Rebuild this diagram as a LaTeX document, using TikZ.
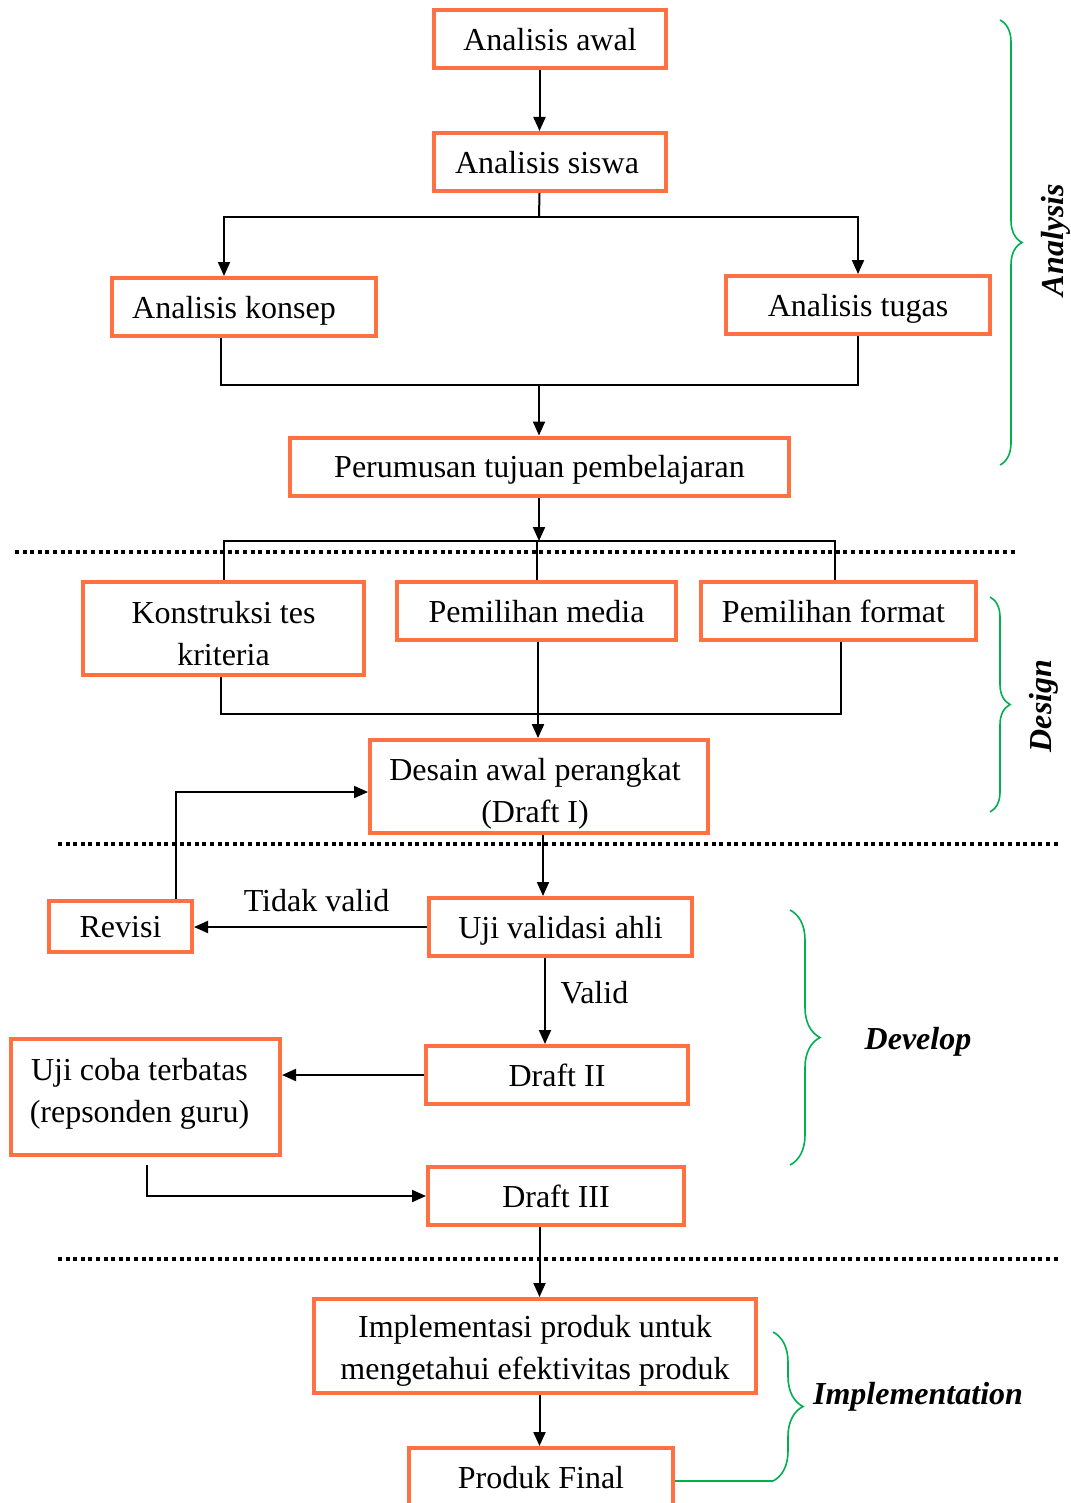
\documentclass[tikz,border=0pt]{standalone}
\usepackage{fontspec}
\setmainfont{Liberation Serif}
\usetikzlibrary{positioning,arrows.meta,calc,decorations.pathreplacing}
\definecolor{boxorange}{RGB}{255,112,67}
\definecolor{brcgreen}{RGB}{0,176,80}
\tikzset{
  frm/.style={draw=boxorange,line width=2pt,align=center,inner sep=2pt,
              font=\fontsize{16}{21}\selectfont,minimum height=29pt},
  blk/.style={frm,text depth=0pt},
  sig/.style={-{Triangle[length=7pt,width=6pt]},line width=1pt},
  lnk/.style={line width=1pt},
  sep/.style={line width=1.6pt,dash pattern=on 2pt off 1.8pt},
  brc/.style={draw=brcgreen,line width=0.8pt,decorate,decoration={brace,amplitude=#1}},
  phase/.style={font=\fontsize{16}{21}\selectfont\bfseries\itshape},
  lbl/.style={font=\fontsize{16}{21}\selectfont},
}
\begin{document}
\begin{tikzpicture}[x=0.5pt,y=-0.5pt]
  \clip (0,0) rectangle (1070,1503);
  % ===== Analysis =====
  \node[blk,minimum width=116pt]                    (awal)   at (550,39.5)   {Analisis awal};
  \node[blk,minimum width=116pt]                    (siswa)  at (550,162)    {Analisis siswa\hspace*{3pt}};
  \node[blk,minimum width=132pt]                    (konsep) at (244,307)    {Analisis konsep\hspace*{10pt}};
  \node[blk,minimum width=132pt]                    (tugas)  at (858,305)    {Analisis tugas};
  \node[blk,minimum width=249.5pt]                  (tujuan) at (539.5,466.5) {Perumusan tujuan pembelajaran};
  \coordinate (splitA) at (539,217);
  \coordinate (joinA)  at (539,385);
  \draw[sig] (awal.south -| tujuan) -- (siswa.north -| tujuan);
  \draw[lnk] (siswa.south -| tujuan) -- (splitA);
  \draw[sig] (splitA) -| ([xshift=-10pt]konsep.north);
  \draw[sig] (splitA) -| (tugas.north);
  \draw[lnk] ([xshift=-11.5pt]konsep.south) |- (joinA);
  \draw[lnk] (tugas.south) |- (joinA);
  \draw[sig] (joinA) -- (tujuan.north -| joinA);

  % ===== Design =====
  \node[frm,minimum width=140.5pt,minimum height=46.5pt] (konstruksi) at (223.5,628.5) {\rule{0pt}{16pt}Konstruksi tes\\kriteria};
  \node[blk,minimum width=139.5pt]                  (media)  at (536.5,611)  {Pemilihan media};
  \node[blk,minimum width=137.5pt]                  (format) at (838.5,611)  {Pemilihan format\hspace*{5pt}};
  \node[frm,minimum width=169pt,minimum height=42.5pt] (desain) at (539,786.5) {\rule{0pt}{18pt}Desain awal perangkat\hspace*{4pt}\\(Draft I)\hspace*{4pt}};
  \coordinate (splitB) at (539,541);
  \coordinate (joinB)  at (538,714);
  \draw[sig] (tujuan.south -| splitB) -- (splitB);
  \draw[lnk] (konstruksi.north) |- ([xshift=-1.75pt]format.north |- splitB) -- ([xshift=-1.75pt]format.north);
  \draw[lnk] (media.north) -- (media.north |- splitB);
  \draw[lnk] ([xshift=-1.25pt]konstruksi.south) |- (joinB);
  \draw[lnk] ([xshift=1.25pt]format.south) |- (joinB);
  \draw[sig] (media.south -| joinB) -- (desain.north -| joinB);

  % ===== Develop =====
  \node[blk,minimum width=71.5pt,minimum height=25.5pt] (revisi) at (120.5,926.5) {Revisi};
  \node[blk,minimum width=131.5pt]                  (validasi) at (560.5,927) {Uji validasi ahli};
  \node[blk,minimum width=131pt]                    (draftB) at (557,1075)  {Draft II};
  \node[frm,minimum width=134.5pt,minimum height=58pt] (ujicoba) at (145.5,1097)
    {Uji coba terbatas\hspace*{6pt}\\(repsonden guru)\hspace*{6pt}\rule[-7pt]{0pt}{1pt}};
  \node[blk,minimum width=128pt]                    (draftC) at (556,1196)  {Draft III};
  \coordinate (ucTail) at (147,1165);
  \draw[sig] ([xshift=27.75pt]revisi.north) |- ([yshift=-2.75pt]desain.west);
  \draw[sig] ([xshift=2pt]desain.south) -- ([xshift=2pt]desain.south |- validasi.north);
  \draw[sig] (validasi.west) -- (revisi.east |- validasi.west)
    node[lbl,midway,above=4pt,xshift=3pt] {Tidak valid};
  \draw[sig] ([xshift=-7.75pt]validasi.south) -- ([xshift=-7.75pt]validasi.south |- draftB.north)
    node[lbl,midway,right=4pt,yshift=4pt] {Valid};
  \draw[sig] (draftB.west) -- (draftB.west -| ujicoba.east);
  \draw[sig] (ucTail) |- (draftC.west);

  % ===== Implementation =====
  \node[frm,minimum width=221pt,minimum height=47pt] (impl) at (535,1346) {\rule{0pt}{16pt}Implementasi produk untuk\\mengetahui efektivitas produk};
  \node[blk,minimum width=132pt]                    (final) at (541,1477)  {Produk Final};
  \draw[sig] (draftC.south -| tujuan) -- (impl.north -| tujuan);
  \draw[sig] (impl.south -| tujuan) -- (final.north -| tujuan);

  % phase separators
  \draw[sep] (15,552) -- (1015,552);
  \draw[sep] (58,844) -- (1058,844);
  \draw[sep] (58,1259) -- (1058,1259);

  % phase braces
  \coordinate (ibTop) at (773,1332);
  \coordinate (ibBot) at (773,1481);
  \draw[brc=11pt] (1000,20) -- (1000,465);
  \node[phase,rotate=90] (anTxt) at (1056,240) {Analysis};
  \draw[brc=10pt] (990,597) -- (990,812);
  \node[phase,rotate=90] (deTxt) at (1044,706) {Design};
  \draw[brc=15pt] (790,910) -- (790,1165);
  \node[phase] (dvTxt) at (918,1042) {Develop};
  \draw[brc=15pt] (ibTop) -- (ibBot);
  \node[phase] (imTxt) at (918,1397) {Implementation};
  \draw[brcgreen,line width=0.8pt] ([yshift=-2pt]final.east) -- (ibBot);
\end{tikzpicture}
\end{document}
